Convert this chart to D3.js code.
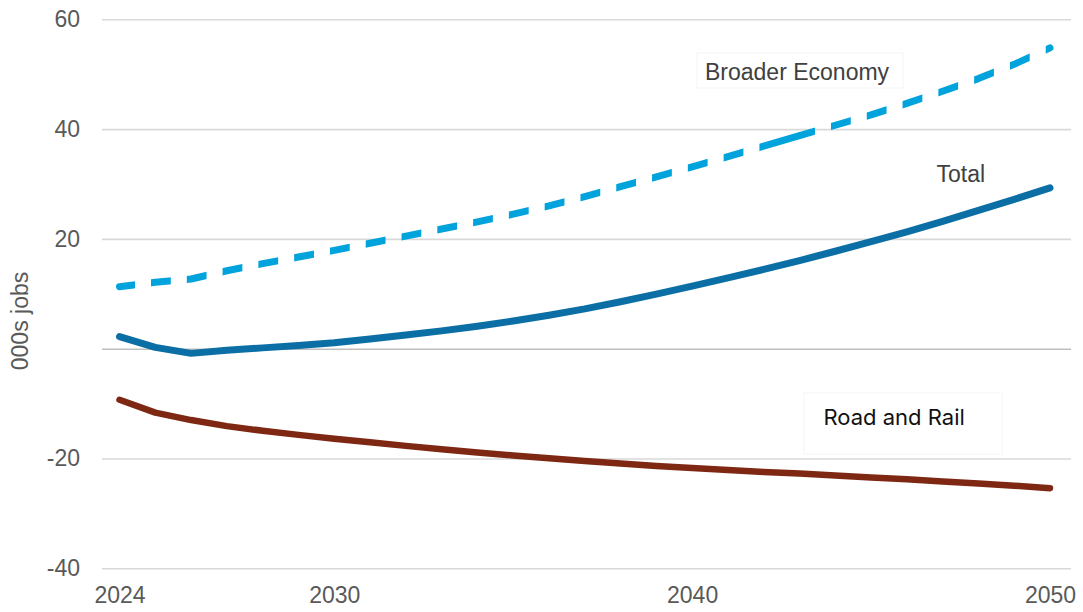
<!DOCTYPE html>
<html>
<head>
<meta charset="utf-8">
<script src="https://cdn.jsdelivr.net/npm/d3@7"></script>
<style>
  body { margin: 0; background: #ffffff; }
  svg { display: block; }
</style>
</head>
<body>
<svg id="chart" width="1083" height="612"></svg>
<script>
// Job impacts, thousands of jobs, 2024-2050
const years = [2024, 2025, 2026, 2027, 2028, 2029, 2030, 2031, 2032, 2033, 2034, 2035, 2036, 2037,
               2038, 2039, 2040, 2041, 2042, 2043, 2044, 2045, 2046, 2047, 2048, 2049, 2050];
const broaderEconomy = [11.3, 12.1, 12.7, 14.2, 15.5, 16.7, 17.9, 19.2, 20.5, 21.8, 23.1, 24.5, 26.0, 27.7,
                        29.5, 31.3, 33.1, 35.0, 36.9, 38.8, 40.7, 42.6, 44.7, 46.9, 49.2, 51.8, 54.8];
const total = [2.2, 0.25, -0.85, -0.3, 0.15, 0.6, 1.1, 1.75, 2.5, 3.25, 4.1, 5.05, 6.1, 7.25,
               8.55, 9.95, 11.4, 12.9, 14.45, 16.05, 17.75, 19.5, 21.3, 23.2, 25.2, 27.2, 29.3];
const roadAndRail = [-9.3, -11.65, -13.0, -14.1, -14.95, -15.7, -16.4, -17.05, -17.7, -18.3, -18.9, -19.45, -19.95, -20.45,
                     -20.9, -21.35, -21.75, -22.1, -22.45, -22.75, -23.1, -23.45, -23.8, -24.2, -24.55, -24.95, -25.4];

const yTicks = [-40, -20, 0, 20, 40, 60];
const yTickLabels = ["-40", "-20", "", "20", "40", "60"];
const xTicks = [2024, 2030, 2040, 2050];
// Years whose (empty) data-label boxes break the Broader Economy line
const labelBoxYears = years.filter(yr => yr < 2050 && yr !== 2042);

const svg = d3.select("#chart");
const font = "'Liberation Sans', Arial, sans-serif";
const textColor = "#595959";

const x = d3.scaleLinear().domain([2024, 2050]).range([119.5, 1050]);
const y = d3.scaleLinear().domain([-40, 60]).range([568.3, 19.3]);
const gridLeft = 102, gridRight = 1071;

// Y axis with horizontal gridlines
const yAxis = d3.axisLeft(y)
  .tickValues(yTicks)
  .tickFormat((d, i) => yTickLabels[i])
  .tickSizeInner(-(gridRight - gridLeft))
  .tickSizeOuter(0)
  .tickPadding(22);

const gy = svg.append("g")
  .attr("transform", `translate(${gridLeft},0)`)
  .call(yAxis);
gy.select(".domain").remove();
gy.selectAll(".tick line")
  .attr("stroke", d => d === 0 ? "#bfbfbf" : "#d9d9d9")
  .attr("stroke-width", 1.6);
gy.selectAll(".tick text")
  .attr("fill", textColor)
  .style("font-family", font)
  .style("font-size", "23px");

// X axis (labels only)
const xAxis = d3.axisBottom(x)
  .tickValues(xTicks)
  .tickFormat(d3.format("d"))
  .tickSize(0)
  .tickPadding(18);
const gx = svg.append("g")
  .attr("transform", `translate(0,${y(-40)})`)
  .call(xAxis);
gx.select(".domain").remove();
gx.selectAll(".tick text")
  .attr("fill", textColor)
  .style("font-family", font)
  .style("font-size", "23px");

// Y axis title
svg.append("text")
  .attr("transform", "translate(28,321) rotate(-90)")
  .attr("text-anchor", "middle")
  .attr("fill", textColor)
  .style("font-family", font)
  .style("font-size", "23px")
  .text("000s jobs");

// Mask that cuts the broader-economy line where its label boxes sit
const defs = svg.append("defs");
const mask = defs.append("mask")
  .attr("id", "labelBoxMask")
  .attr("maskUnits", "userSpaceOnUse")
  .attr("x", 0).attr("y", 0).attr("width", 1083).attr("height", 612);
mask.append("rect")
  .attr("x", 0).attr("y", 0).attr("width", 1083).attr("height", 612)
  .attr("fill", "#fff");
mask.selectAll("rect.box")
  .data(labelBoxYears)
  .join("rect")
  .attr("class", "box")
  .attr("x", d => x(d) + 15.5)
  .attr("y", 0)
  .attr("width", 16)
  .attr("height", 612)
  .attr("fill", "#000");

const line = d3.line()
  .x((d, i) => x(years[i]))
  .y(d => y(d));

// Series
svg.append("path")
  .datum(roadAndRail)
  .attr("d", line)
  .attr("fill", "none")
  .attr("stroke", "#7e2813")
  .attr("stroke-width", 6.5)
  .attr("stroke-linecap", "round")
  .attr("stroke-linejoin", "round");

svg.append("path")
  .datum(total)
  .attr("d", line)
  .attr("fill", "none")
  .attr("stroke", "#0b6fa5")
  .attr("stroke-width", 7)
  .attr("stroke-linecap", "round")
  .attr("stroke-linejoin", "round");

svg.append("path")
  .datum(broaderEconomy)
  .attr("d", line)
  .attr("fill", "none")
  .attr("stroke", "#00a3dc")
  .attr("stroke-width", 7)
  .attr("stroke-linecap", "round")
  .attr("stroke-linejoin", "round")
  .attr("mask", "url(#labelBoxMask)");

// Series labels
svg.append("rect")
  .attr("x", 697).attr("y", 53).attr("width", 206).attr("height", 35)
  .attr("fill", "none").attr("stroke", "#f5f5f5").attr("stroke-width", 1);
svg.append("text")
  .attr("x", 705).attr("y", 79.5)
  .attr("fill", "#404040")
  .style("font-family", font)
  .style("font-size", "23px")
  .text("Broader Economy");

svg.append("text")
  .attr("x", 936.5).attr("y", 181.5)
  .attr("fill", "#404040")
  .style("font-family", font)
  .style("font-size", "23px")
  .text("Total");

svg.append("rect")
  .attr("x", 804).attr("y", 393).attr("width", 198).attr("height", 61)
  .attr("fill", "none").attr("stroke", "#f5f5f5").attr("stroke-width", 1);
svg.append("text")
  .attr("x", 823.5).attr("y", 424.5)
  .attr("fill", "#111111")
  .style("font-family", "Inter, 'Liberation Sans', Arial, sans-serif")
  .style("font-size", "22px")
  .text("Road and Rail");
</script>
</body>
</html>
